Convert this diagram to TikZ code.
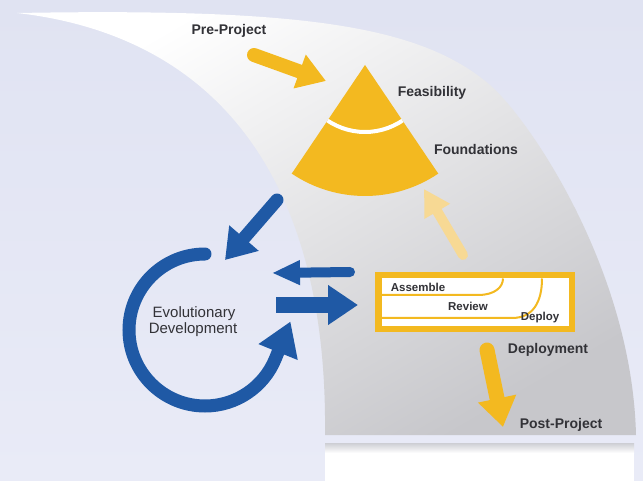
\documentclass[tikz,border=0pt]{standalone}
\usepackage{fontspec}
\setmainfont{Liberation Sans}
\usetikzlibrary{arrows.meta}
\definecolor{bgtop}{RGB}{224,227,242}
\definecolor{bgbot}{RGB}{233,235,247}
\definecolor{dyellow}{RGB}{243,185,32}
\definecolor{fyellow}{RGB}{247,217,148}
\definecolor{dblue}{RGB}{31,89,165}
\definecolor{txtc}{RGB}{50,50,55}
\definecolor{swgray}{RGB}{199,199,203}
\definecolor{shadowc}{RGB}{205,206,212}
\tikzset{
  lbl/.style={font=\bfseries\fontsize{14}{16}\selectfont, text=txtc, inner sep=0pt, anchor=base},
  boxlbl/.style={font=\bfseries\fontsize{11.5}{13}\selectfont, text=txtc, inner sep=0pt, anchor=base},
  evolbl/.style={font=\fontsize{15}{17}\selectfont, text=txtc, inner sep=0pt, anchor=base},
  yarrow/.style={draw=dyellow, line cap=round},
  barrow/.style={draw=dblue, line cap=round},
}
\begin{document}
\begin{tikzpicture}[x=1pt,y=-1pt]
\useasboundingbox (0,0) rectangle (643,481);
% background
\shade[top color=bgtop, bottom color=bgbot] (0,0) rectangle (643,481);
% swoosh
\shade[top color=white, bottom color=swgray, shading angle=30]
  (17,13) .. controls (300,8) and (420,25) .. (490,85)
  .. controls (530,120) and (632,270) .. (636,435)
  -- (325,435) .. controls (328,170) and (210,35) .. (17,13) -- cycle;
% bottom white panel with shadow
\fill[white] (325,443) rectangle (634,481);
\shade[top color=shadowc, bottom color=white] (325,443) rectangle (634,453);

% sector (Feasibility / Foundations)
\coordinate (apex) at (365,65);
\fill[dyellow] (apex) -- ++(124:131) arc[start angle=124, end angle=56, radius=131] -- cycle;
\begin{scope}
  \clip (apex) -- ++(124:131) arc[start angle=124, end angle=56, radius=131] -- cycle;
  \draw[white, line width=4pt] (apex) ++(130:67) arc[start angle=130, end angle=50, radius=67];
\end{scope}

% labels
\node[lbl] (pre) at (229,35) {Pre-Project};
\node[lbl] (feas) at (432,97) {Feasibility};
\node[lbl] (found) at (476,155) {Foundations};
\node[lbl] (deplm) at (548,353) {Deployment};
\node[lbl] (post) at (561,428) {Post-Project};
\node[evolbl] (evo) at (194,317) {Evolutionary};
\node[evolbl] (dev) at (193,334) {Development};

% deployment box
\node[draw=dyellow, line width=6.5pt, fill=white, inner sep=0pt,
      minimum width=193.5pt, minimum height=53.5pt] (box) at (475,302) {};
\draw[dyellow, line width=2pt] (box.west |- 0,295) -- (478,295)
   .. controls (495,295) and (503,287) .. (503,278.5);
\draw[dyellow, line width=2pt] (box.west |- 0,318) -- (512,318)
   .. controls (533,318) and (542,302) .. (542,278.5);
\node[boxlbl] (asm) at (418,292) {Assemble};
\node[boxlbl] (rev) at (468,310) {Review};
\node[boxlbl] (dep) at (540,320) {Deploy};

% arrow end points
\coordinate (preS) at (254,55);
\coordinate (preE) at (326,81);
\coordinate (dlS) at (277,200);
\coordinate (dlE) at (225,260);
\coordinate (lS) at (350,272);
\coordinate (lE) at (272,273);
\coordinate (rS) at (276,305);
\coordinate (rE) at (358,305);
\coordinate (upS) at (463,255);
\coordinate (upE) at (424,189);
\coordinate (dnS) at (487,350);
\coordinate (dnE) at (503,427);
\coordinate (loopS) at (205,254);

% yellow arrows
\draw[yarrow, line width=14pt, -{Triangle[width=34pt,length=28pt]}] (preS) -- (preE);
\draw[draw=fyellow, line cap=round, line width=10pt,
      -{Triangle[width=28pt,length=26pt]}] (upS) -- (upE);
\draw[yarrow, line width=15pt, -{Triangle[width=37pt,length=29pt]}] (dnS) -- (dnE);

% blue arrows
\draw[barrow, line width=13pt, -{Triangle[width=37pt,length=29pt]}] (dlS) -- (dlE);
\draw[barrow, line width=10pt, -{Triangle[width=23pt,length=28pt]}] (lS) -- (lE);
\draw[draw=dblue, line width=16pt, -{Triangle[width=38pt,length=30pt]}] (rS) -- (rE);
\draw[barrow, line width=13pt, -{Triangle[width=40pt,length=33pt]}]
  (loopS) arc[start angle=270, end angle=22, radius=76] -- ++(15,-37);
\end{tikzpicture}
\end{document}
